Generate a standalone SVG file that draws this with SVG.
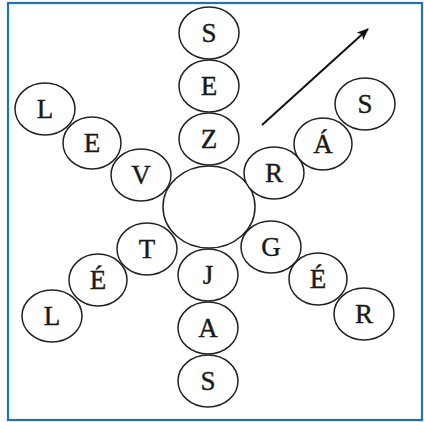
<svg xmlns="http://www.w3.org/2000/svg" width="424" height="422" viewBox="0 0 424 422">
<style>
.n ellipse{fill:#fff;stroke:#222;stroke-width:1.5}
.n text{font-family:'Liberation Serif','DejaVu Serif',serif;font-size:27px;fill:#1a1a1a;stroke:#1a1a1a;stroke-width:0.4;text-anchor:middle}
</style>
<defs>
<marker id="ah" markerWidth="12" markerHeight="10" refX="11" refY="5" orient="auto" markerUnits="userSpaceOnUse">
<path d="M0,0 L12,5 L0,10 L3,5 Z" fill="#111"/>
</marker>
</defs>
<rect x="8" y="3" width="414" height="417" fill="#fff" stroke="#1a73c8" stroke-width="2.2"/>
<g id="connectors">
<line x1="262" y1="125" x2="368" y2="29" stroke="#111" stroke-width="2" marker-end="url(#ah)"/>
</g>
<g id="center" class="n"><ellipse cx="209" cy="207" rx="46" ry="41"/></g>
<g id="n-s1" class="n"><ellipse cx="209" cy="33" rx="30" ry="26"/><text x="209" y="42">S</text></g>
<g id="n-e1" class="n"><ellipse cx="209" cy="86" rx="30" ry="26"/><text x="209" y="95">E</text></g>
<g id="n-z" class="n"><ellipse cx="209" cy="139" rx="30" ry="26"/><text x="209" y="148">Z</text></g>
<g id="n-j" class="n"><ellipse cx="208" cy="275" rx="30" ry="26"/><text x="208" y="284">J</text></g>
<g id="n-a" class="n"><ellipse cx="208" cy="328" rx="30" ry="26"/><text x="208" y="337">A</text></g>
<g id="n-s2" class="n"><ellipse cx="208" cy="381" rx="30" ry="26"/><text x="208" y="390">S</text></g>
<g id="n-v" class="n"><ellipse cx="141" cy="175" rx="30" ry="26"/><text x="141" y="184">V</text></g>
<g id="n-e2" class="n"><ellipse cx="92" cy="143" rx="29" ry="26"/><text x="92" y="152">E</text></g>
<g id="n-l1" class="n"><ellipse cx="45" cy="109" rx="30" ry="26"/><text x="45" y="118">L</text></g>
<g id="n-t" class="n"><ellipse cx="147" cy="249" rx="30" ry="26"/><text x="147" y="258">T</text></g>
<g id="n-e3" class="n"><ellipse cx="98" cy="280" rx="29" ry="26"/><text x="98" y="289">É</text></g>
<g id="n-l2" class="n"><ellipse cx="52" cy="316" rx="30" ry="26"/><text x="52" y="325">L</text></g>
<g id="n-r1" class="n"><ellipse cx="274" cy="173" rx="30" ry="26"/><text x="274" y="182">R</text></g>
<g id="n-a2" class="n"><ellipse cx="323" cy="144" rx="29" ry="26"/><text x="323" y="153">Á</text></g>
<g id="n-s3" class="n"><ellipse cx="365" cy="104" rx="30" ry="26"/><text x="365" y="113">S</text></g>
<g id="n-g" class="n"><ellipse cx="271" cy="247" rx="30" ry="26"/><text x="271" y="256">G</text></g>
<g id="n-e4" class="n"><ellipse cx="318" cy="279" rx="29" ry="26"/><text x="318" y="288">É</text></g>
<g id="n-r2" class="n"><ellipse cx="364" cy="314" rx="30" ry="26"/><text x="364" y="323">R</text></g>
</svg>
